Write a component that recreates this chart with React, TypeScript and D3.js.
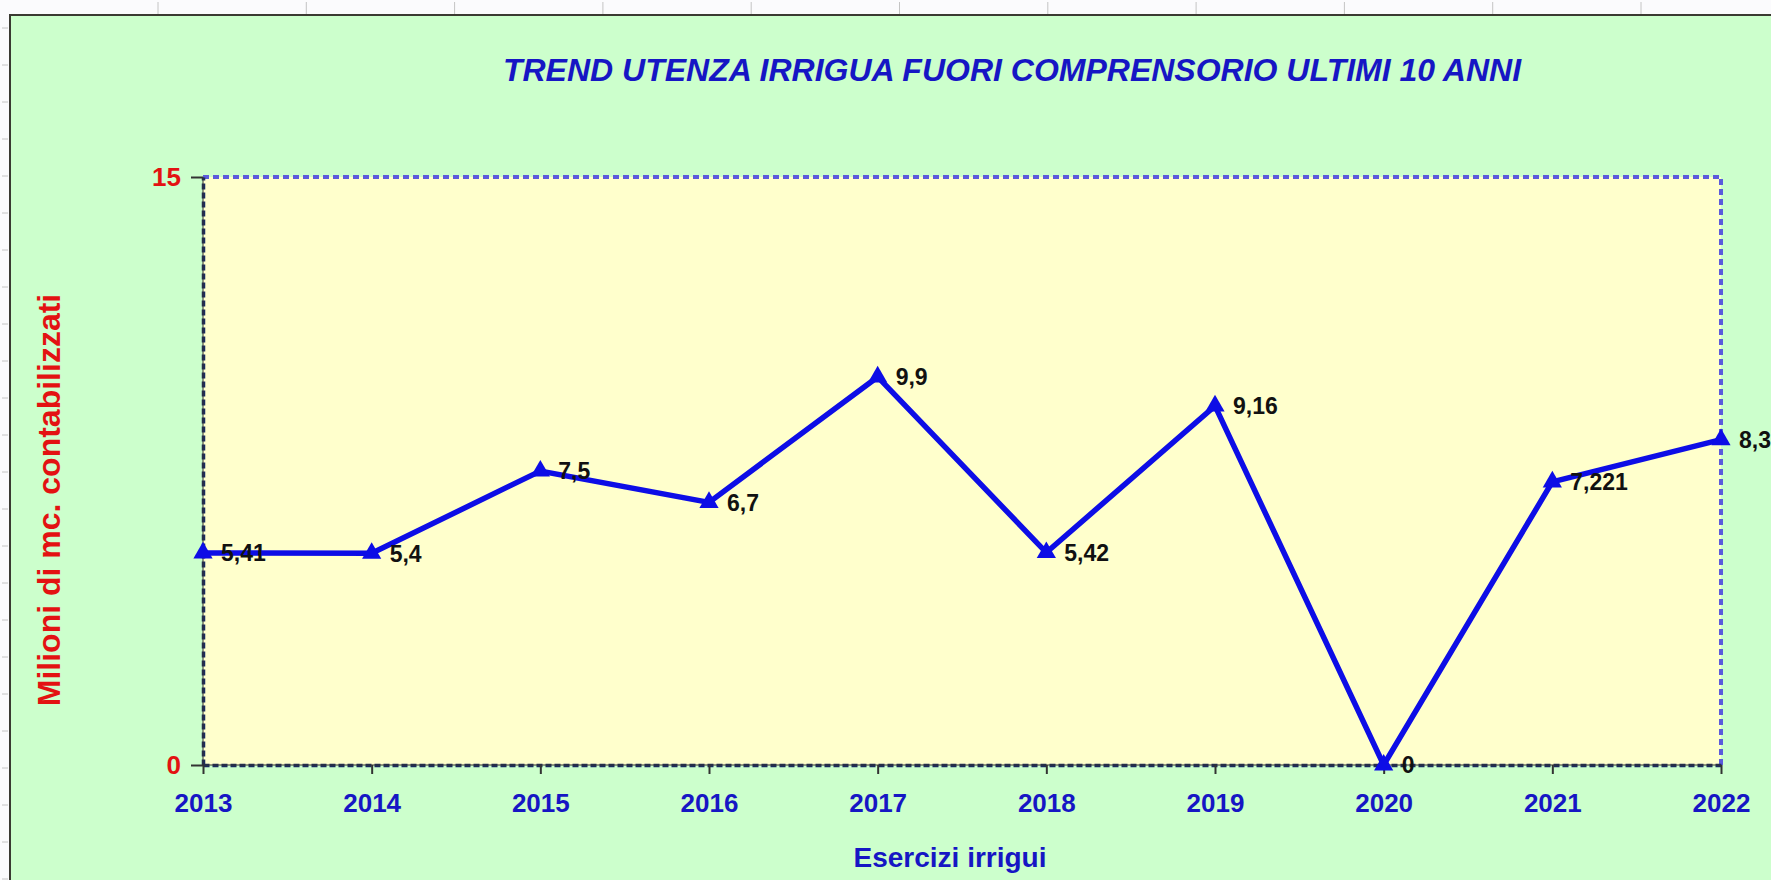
import React, { useEffect, useRef } from "react";
import * as d3 from "d3";

// data
const years = ["2013", "2014", "2015", "2016", "2017", "2018", "2019", "2020", "2021", "2022"];
const volumes = [5.41, 5.4, 7.5, 6.7, 9.9, 5.42, 9.16, 0, 7.221, 8.3];
const yTicks = [0, 15];

const title = "TREND UTENZA IRRIGUA FUORI COMPRENSORIO ULTIMI 10 ANNI";
const xTitle = "Esercizi irrigui";
const yTitle = "Milioni di mc. contabilizzati";

const width = 1771;
const height = 880;
const margin = { top: 177, right: 50, bottom: 115, left: 203 };

const font = "'Liberation Sans', Arial, sans-serif";
const lineBlue = "#0d0de6";
const textBlue = "#1616c4";
const textRed = "#e31212";

export default function App() {
  const svgRef = useRef<SVGSVGElement | null>(null);

  useEffect(() => {
    document.body.style.margin = "0";
    const svg = d3.select(svgRef.current);
    svg.html("");

    const x = d3.scalePoint<string>()
      .domain(years)
      .range([margin.left, width - margin.right]);
    const y = d3.scaleLinear()
      .domain([0, 15])
      .range([height - margin.bottom, margin.top]);

    // sheet background with the faint row/column marks around it
    svg.append("rect").attr("width", width).attr("height", height).attr("fill", "#fbfbfd");
    svg.append("g")
      .selectAll("line")
      .data(d3.range(158, width, 148.3))
      .join("line")
      .attr("x1", d => d).attr("x2", d => d)
      .attr("y1", 2).attr("y2", 15)
      .attr("stroke", "#c4c4c4").attr("stroke-width", 1);
    svg.append("g")
      .selectAll("line")
      .data(d3.range(28, height, 37))
      .join("line")
      .attr("x1", 2).attr("x2", 8)
      .attr("y1", d => d).attr("y2", d => d)
      .attr("stroke", "#c4c4c4").attr("stroke-width", 1);

    // chart area
    svg.append("rect")
      .attr("x", 10).attr("y", 15)
      .attr("width", width - 10).attr("height", height - 15)
      .attr("fill", "#ccffcc");
    svg.append("path")
      .attr("d", `M10,${height}V15H${width}`)
      .attr("fill", "none")
      .attr("stroke", "#3a3a32").attr("stroke-width", 2);

    // plot area
    const x0 = margin.left, x1 = width - margin.right;
    const y0 = height - margin.bottom, y1 = margin.top;
    svg.append("rect")
      .attr("x", x0).attr("y", y1)
      .attr("width", x1 - x0).attr("height", y0 - y1)
      .attr("fill", "#ffffcc");
    svg.append("path")
      .attr("d", `M${x0},${y1}H${x1}V${y0}`)
      .attr("fill", "none")
      .attr("stroke", "#5b5bdc").attr("stroke-width", 4)
      .attr("stroke-dasharray", "6,4");

    const xAxis = g => g
      .attr("transform", `translate(0,${y0})`)
      .call(d3.axisBottom(x).tickSize(9).tickSizeOuter(0).tickPadding(20));
    const yAxis = g => g
      .attr("transform", `translate(${x0},0)`)
      .call(d3.axisLeft(y).tickValues(yTicks).tickSize(12).tickSizeOuter(0).tickPadding(10));

    const gx = svg.append("g").call(xAxis);
    const gy = svg.append("g").call(yAxis);
    [gx, gy].forEach(g => {
      g.select(".domain")
        .attr("stroke", "#1b2b5e").attr("stroke-width", 3.5)
        .attr("stroke-dasharray", "6,3");
      g.selectAll(".tick line").attr("stroke", "#333").attr("stroke-width", 2);
      g.selectAll("text")
        .attr("font-family", font).attr("font-weight", "bold").attr("font-size", 26);
    });
    gx.selectAll("text").attr("fill", textBlue);
    gy.selectAll("text").attr("fill", textRed);
    // thin solid line under the dashed axes
    svg.append("path")
      .attr("d", `M${x0},${y1}V${y0}H${x1}`)
      .attr("fill", "none").attr("stroke", "#333").attr("stroke-width", 1);

    // series
    const line = d3.line<number>()
      .x((d, i) => x(years[i]))
      .y(d => y(d));
    svg.append("path")
      .datum(volumes)
      .attr("fill", "none")
      .attr("stroke", lineBlue)
      .attr("stroke-width", 5.5)
      .attr("stroke-linejoin", "miter")
      .attr("d", line);

    svg.append("g")
      .selectAll("path")
      .data(volumes)
      .join("path")
      .attr("transform", (d, i) => `translate(${x(years[i])},${y(d)})`)
      .attr("d", d3.symbol(d3.symbolTriangle, 160))
      .attr("fill", lineBlue);

    svg.append("g")
      .selectAll("text")
      .data(volumes)
      .join("text")
      .attr("x", (d, i) => x(years[i]) + 18)
      .attr("y", d => y(d))
      .attr("dy", "0.36em")
      .attr("font-family", font).attr("font-weight", "bold").attr("font-size", 23)
      .attr("fill", "#111")
      .text(d => String(d).replace(".", ","));

    // titles
    svg.append("text")
      .attr("x", 1012).attr("y", 81)
      .attr("text-anchor", "middle")
      .attr("font-family", font).attr("font-weight", "bold").attr("font-style", "italic")
      .attr("font-size", 32)
      .attr("fill", textBlue)
      .text(title);
    svg.append("text")
      .attr("x", 950).attr("y", 867)
      .attr("text-anchor", "middle")
      .attr("font-family", font).attr("font-weight", "bold").attr("font-size", 28)
      .attr("fill", textBlue)
      .text(xTitle);
    svg.append("text")
      .attr("transform", "translate(48,500) rotate(-90)")
      .attr("text-anchor", "middle")
      .attr("dy", "0.36em")
      .attr("font-family", font).attr("font-weight", "bold").attr("font-size", 32)
      .attr("fill", textRed)
      .text(yTitle);
  }, []);

  return (
    <div style={{ position: "absolute", left: 0, top: 0 }}>
      <svg ref={svgRef} width={width} height={height} style={{ display: "block" }}></svg>
    </div>
  );
}
